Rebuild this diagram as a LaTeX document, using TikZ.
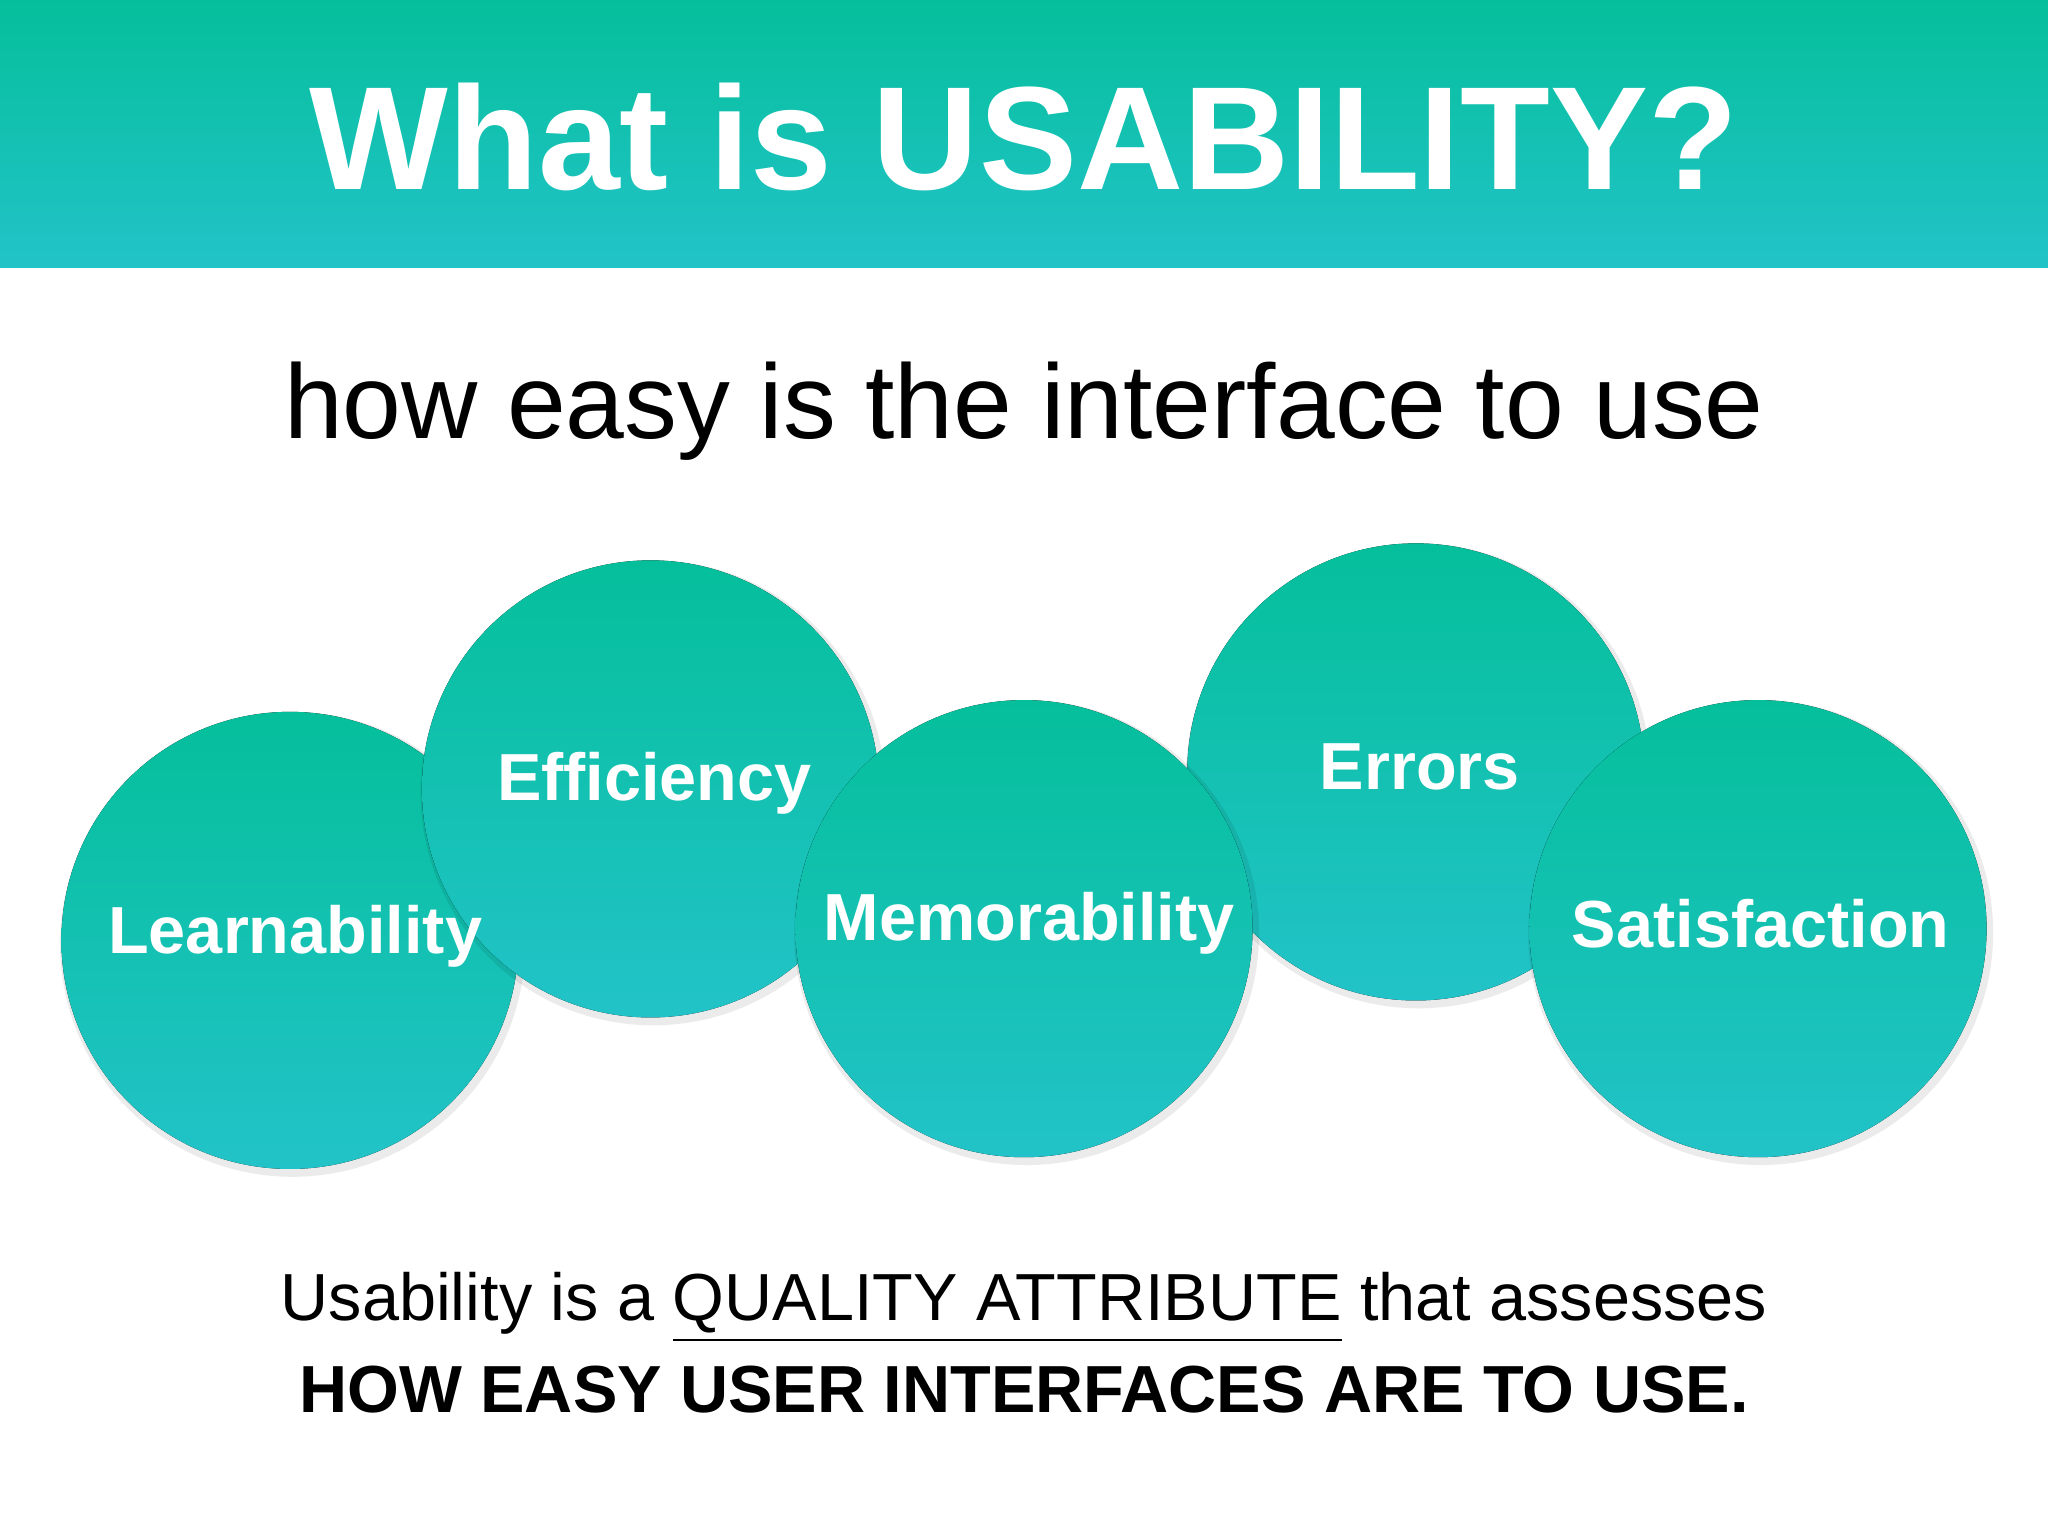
\documentclass[tikz,border=0pt]{standalone}
\usepackage{fontspec}
\setmainfont{Liberation Sans}
\usetikzlibrary{shadows.blur}
\definecolor{tA}{HTML}{05BF9B}
\definecolor{tB}{HTML}{22C3C8}
\begin{document}
\begin{tikzpicture}[x=0.01cm,y=-0.01cm,
  bub/.style={circle,minimum size=350\pgflinewidth,top color=tA,bottom color=tB,draw=none,
    blur shadow={shadow blur steps=6,shadow xshift=0pt,shadow yshift=-1pt,shadow blur extra rounding=2pt,shadow opacity=25}},
  lab/.style={text=white,font=\fontsize{14.5}{16}\selectfont\bfseries}]
\useasboundingbox (0,0) rectangle (1568,1176);
\fill[top color=tA,bottom color=tB] (0,0) rectangle (1568,205);
\node[text=white,font=\fontsize{32}{36}\selectfont\bfseries] (title) at (784,105) {What is USABILITY?};
\node[font=\fontsize{23}{26}\selectfont] (sub) at (784,315) {how easy is the interface to use};
\foreach \n/\x/\y in {l/222/720,e/498/604,r/1084/591,m/784/711,s/1346/711}{
  \fill[black,opacity=0.08] (\x+2,\y+3) circle (178);
  \fill[top color=tA,bottom color=tB] (\x,\y) circle (175);
  \coordinate (\n) at (\x,\y);
}
\node[lab] (ll) at (226,717) {Learnability};
\node[lab] (el) at (501,600) {Efficiency};
\node[lab] (rl) at (1087,587) {Errors};
\node[lab] (ml) at (788,707) {Memorability};
\node[lab] (sl) at (1348,707) {Satisfaction};
\node[font=\fontsize{14.5}{20}\selectfont,align=center] (bot) at (784,1028)
 {Usability is a \underline{QUALITY ATTRIBUTE} that assesses\\ \bfseries HOW EASY USER INTERFACES ARE TO USE.};
\end{tikzpicture}
\end{document}
